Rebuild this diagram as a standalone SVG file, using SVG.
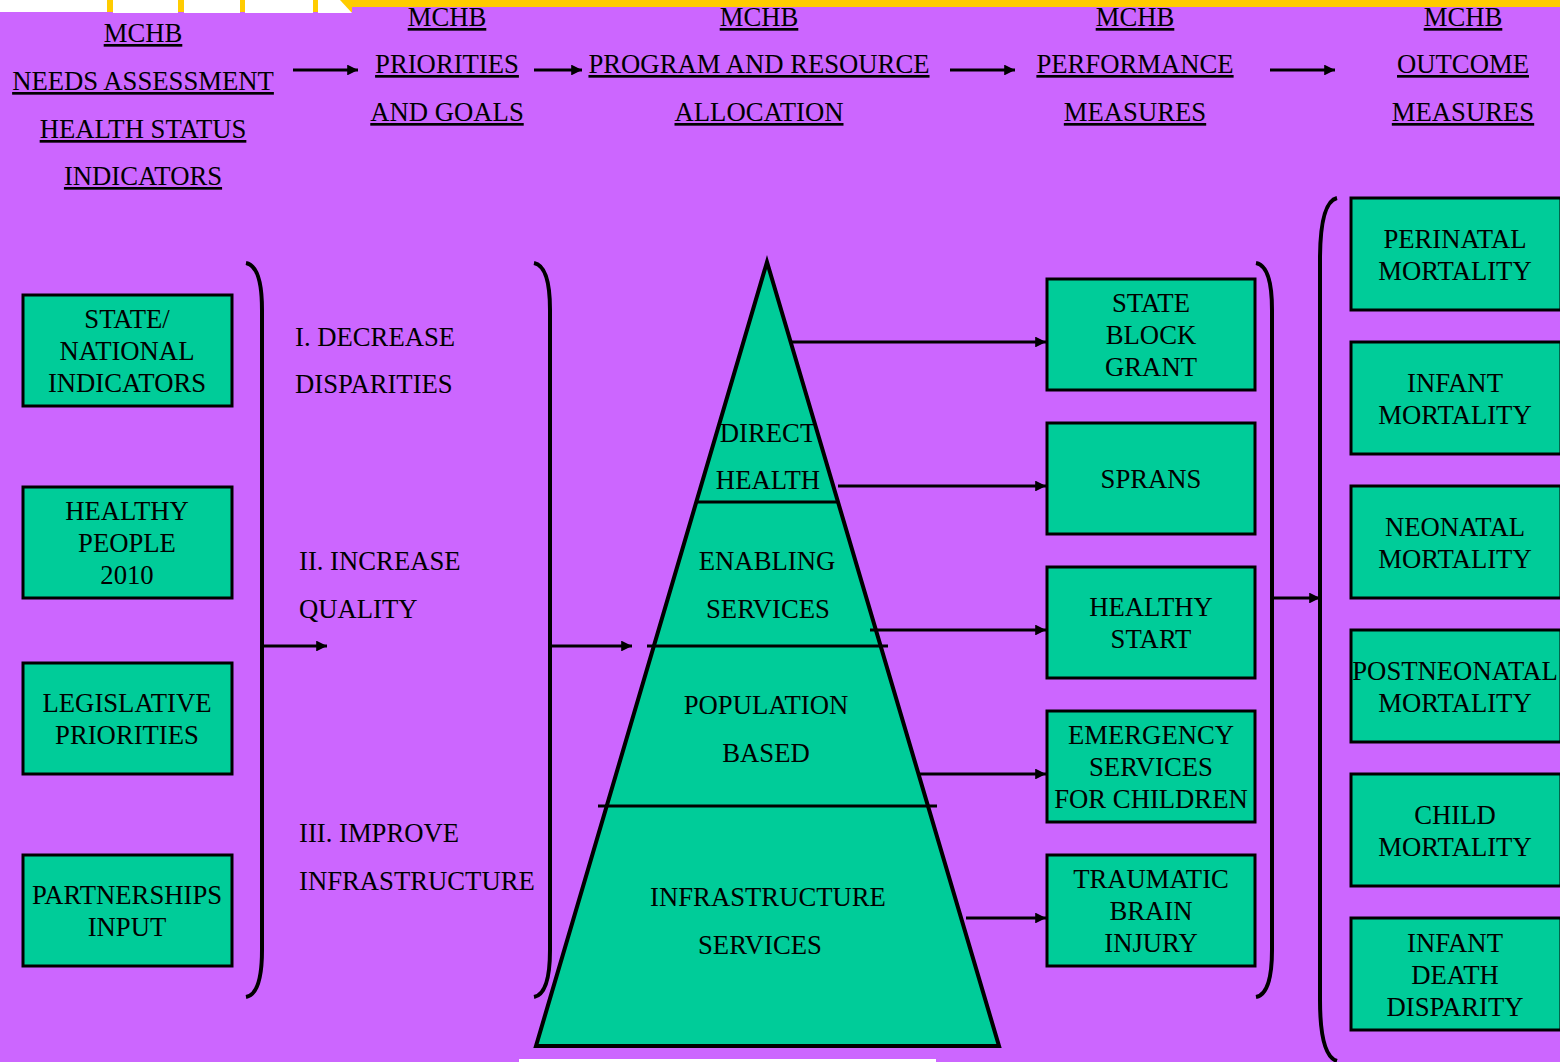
<svg xmlns="http://www.w3.org/2000/svg" width="1560" height="1062" viewBox="0 0 1560 1062">
<defs>
<style>
text{font-family:"Liberation Serif","Times New Roman",serif;font-size:26.7px;fill:#000;text-anchor:middle}
.u{text-decoration:underline}
.l{text-anchor:start}
.box{fill:#00CC99;stroke:#000;stroke-width:3}
.ln{fill:none;stroke:#000;stroke-width:3}
.br{fill:none;stroke:#000;stroke-width:4}
</style>
<marker id="ah" viewBox="0 0 10 10" refX="10" refY="5" markerWidth="4.2" markerHeight="3.6" orient="auto" markerUnits="strokeWidth">
<path d="M0,0 L10,5 L0,10 z" fill="#000"/>
</marker>
</defs>
<rect width="1560" height="1062" fill="#CC66FF"/>
<g id="topbar">
<rect x="345" y="0" width="1215" height="7" fill="#FFCC00"/>
<rect x="0" y="0" width="352" height="12" fill="#FFCC00"/>
<rect x="0" y="0" width="107" height="12" fill="#fff"/>
<rect x="113" y="0" width="65" height="13" fill="#fff"/>
<rect x="184" y="0" width="56" height="13" fill="#fff"/>
<rect x="245" y="0" width="68" height="13" fill="#fff"/>
<path d="M318,0 L340,0 L352,13 L318,13 z" fill="#fff"/>
</g>
<g id="header">
<g id="h-needs"><text class="u" x="143" y="42">MCHB</text><text class="u" x="143" y="90">NEEDS ASSESSMENT</text><text class="u" x="143" y="138">HEALTH STATUS</text><text class="u" x="143" y="185">INDICATORS</text></g>
<g id="h-priorities"><text class="u" x="447" y="26">MCHB</text><text class="u" x="447" y="73">PRIORITIES</text><text class="u" x="447" y="121">AND GOALS</text></g>
<g id="h-program"><text class="u" x="759" y="26">MCHB</text><text class="u" x="759" y="73">PROGRAM AND RESOURCE</text><text class="u" x="759" y="121">ALLOCATION</text></g>
<g id="h-performance"><text class="u" x="1135" y="26">MCHB</text><text class="u" x="1135" y="73">PERFORMANCE</text><text class="u" x="1135" y="121">MEASURES</text></g>
<g id="h-outcome"><text class="u" x="1463" y="26">MCHB</text><text class="u" x="1463" y="73">OUTCOME</text><text class="u" x="1463" y="121">MEASURES</text></g>
</g>
<g id="inputs">
<g id="n-state"><rect class="box" x="23" y="295" width="209" height="111"/><text x="127" y="328">STATE/</text><text x="127" y="360">NATIONAL</text><text x="127" y="392">INDICATORS</text></g>
<g id="n-healthy"><rect class="box" x="23" y="487" width="209" height="111"/><text x="127" y="520">HEALTHY</text><text x="127" y="552">PEOPLE</text><text x="127" y="584">2010</text></g>
<g id="n-legis"><rect class="box" x="23" y="663" width="209" height="111"/><text x="127" y="712">LEGISLATIVE</text><text x="127" y="744">PRIORITIES</text></g>
<g id="n-partner"><rect class="box" x="23" y="855" width="209" height="111"/><text x="127" y="904">PARTNERSHIPS</text><text x="127" y="936">INPUT</text></g>
</g>
<g id="goals">
<text class="l" x="295" y="346">I. DECREASE</text><text class="l" x="295" y="393">DISPARITIES</text>
<text class="l" x="299" y="570">II. INCREASE</text><text class="l" x="299" y="618">QUALITY</text>
<text class="l" x="299" y="842">III. IMPROVE</text><text class="l" x="299" y="890">INFRASTRUCTURE</text>
</g>
<g id="pyramid">
<path d="M767,262 L536,1046 L999,1046 z" fill="#00CC99" stroke="#000" stroke-width="4" stroke-linejoin="miter"/>
<line class="ln" x1="696" y1="502" x2="838" y2="502"/>
<line class="ln" x1="647" y1="646" x2="888" y2="646"/>
<line class="ln" x1="598" y1="806" x2="937" y2="806"/>
<text x="768" y="442">DIRECT</text><text x="768" y="489">HEALTH</text>
<text x="767" y="570">ENABLING</text><text x="768" y="618">SERVICES</text>
<text x="766" y="714">POPULATION</text><text x="766" y="762">BASED</text>
<text x="768" y="906">INFRASTRUCTURE</text><text x="760" y="954">SERVICES</text>
</g>
<g id="programs">
<g id="n-block"><rect class="box" x="1047" y="279" width="208" height="111"/><text x="1151" y="312">STATE</text><text x="1151" y="344">BLOCK</text><text x="1151" y="376">GRANT</text></g>
<g id="n-sprans"><rect class="box" x="1047" y="423" width="208" height="111"/><text x="1151" y="488">SPRANS</text></g>
<g id="n-hstart"><rect class="box" x="1047" y="567" width="208" height="111"/><text x="1151" y="616">HEALTHY</text><text x="1151" y="648">START</text></g>
<g id="n-emerg"><rect class="box" x="1047" y="711" width="208" height="111"/><text x="1151" y="744">EMERGENCY</text><text x="1151" y="776">SERVICES</text><text x="1151" y="808">FOR CHILDREN</text></g>
<g id="n-tbi"><rect class="box" x="1047" y="855" width="208" height="111"/><text x="1151" y="888">TRAUMATIC</text><text x="1151" y="920">BRAIN</text><text x="1151" y="952">INJURY</text></g>
</g>
<g id="outcomes">
<g id="n-perinatal"><rect class="box" x="1351" y="198" width="210" height="112"/><text x="1455" y="248">PERINATAL</text><text x="1455" y="280">MORTALITY</text></g>
<g id="n-infant"><rect class="box" x="1351" y="342" width="210" height="112"/><text x="1455" y="392">INFANT</text><text x="1455" y="424">MORTALITY</text></g>
<g id="n-neonatal"><rect class="box" x="1351" y="486" width="210" height="112"/><text x="1455" y="536">NEONATAL</text><text x="1455" y="568">MORTALITY</text></g>
<g id="n-postneo"><rect class="box" x="1351" y="630" width="210" height="112"/><text x="1455" y="680">POSTNEONATAL</text><text x="1455" y="712">MORTALITY</text></g>
<g id="n-child"><rect class="box" x="1351" y="774" width="210" height="112"/><text x="1455" y="824">CHILD</text><text x="1455" y="856">MORTALITY</text></g>
<g id="n-idd"><rect class="box" x="1351" y="918" width="210" height="112"/><text x="1455" y="952">INFANT</text><text x="1455" y="984">DEATH</text><text x="1455" y="1016">DISPARITY</text></g>
</g>
<g id="connectors">
<line class="ln" x1="293" y1="70" x2="358" y2="70" marker-end="url(#ah)"/>
<line class="ln" x1="534" y1="70" x2="582" y2="70" marker-end="url(#ah)"/>
<line class="ln" x1="950" y1="70" x2="1015" y2="70" marker-end="url(#ah)"/>
<line class="ln" x1="1270" y1="70" x2="1335" y2="70" marker-end="url(#ah)"/>
<path class="br" d="M246,263 Q262,266 262,310 L262,950 Q262,994 246,997"/>
<path class="br" d="M534,263 Q550,266 550,310 L550,950 Q550,994 534,997"/>
<path class="br" d="M1256,263 Q1272,266 1272,310 L1272,950 Q1272,994 1256,997"/>
<path class="br" d="M1337,198 Q1320,202 1320,260 L1320,1000 Q1320,1056 1337,1061"/>
<line class="ln" x1="262" y1="646" x2="327" y2="646" marker-end="url(#ah)"/>
<line class="ln" x1="550" y1="646" x2="632" y2="646" marker-end="url(#ah)"/>
<line class="ln" x1="1272" y1="598" x2="1320" y2="598" marker-end="url(#ah)"/>
<line class="ln" x1="790" y1="342" x2="1046" y2="342" marker-end="url(#ah)"/>
<line class="ln" x1="838" y1="486" x2="1046" y2="486" marker-end="url(#ah)"/>
<line class="ln" x1="870" y1="630" x2="1046" y2="630" marker-end="url(#ah)"/>
<line class="ln" x1="918" y1="774" x2="1046" y2="774" marker-end="url(#ah)"/>
<line class="ln" x1="966" y1="918" x2="1046" y2="918" marker-end="url(#ah)"/>
</g>
<rect x="519" y="1059" width="417" height="3" fill="#fff"/>
</svg>
